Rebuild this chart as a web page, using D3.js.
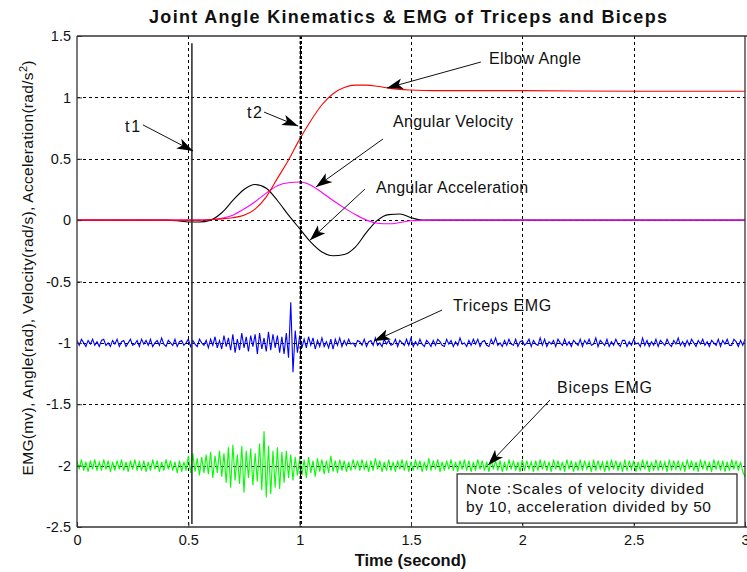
<!DOCTYPE html>
<html><head><meta charset="utf-8">
<script src="https://cdn.jsdelivr.net/npm/d3@7/dist/d3.min.js"></script>
<style>
body{margin:0;background:#fff}
svg{display:block}
text{font-family:"Liberation Sans",Arial,Helvetica,sans-serif;fill:#111}
</style>
</head><body>
<svg id="chart" width="747" height="572"></svg>
<script>
// ---------------- DATA ----------------
const xTicks = [0, 0.5, 1, 1.5, 2, 2.5, 3];
const xTickLabels = ["0", "0.5", "1", "1.5", "2", "2.5", "3"];
const yTicks = [1.5, 1, 0.5, 0, -0.5, -1, -1.5, -2, -2.5];
const yTickLabels = ["1.5", "1", "0.5", "0", "-0.5", "-1", "-1.5", "-2", "-2.5"];

// Elbow angle (rad)
const angleTime  = [0, 0.55, 0.6, 0.65, 0.7, 0.75, 0.8, 0.85, 0.9, 0.95, 1.0, 1.05, 1.1, 1.15, 1.2, 1.25, 1.3, 1.35, 1.4, 1.45, 1.5, 1.6, 2.0, 2.5, 3.0];
const angleValue = [0, 0, 0.005, 0.01, 0.02, 0.04, 0.09, 0.19, 0.34, 0.49, 0.66, 0.81, 0.94, 1.03, 1.08, 1.10, 1.10, 1.09, 1.075, 1.065, 1.06, 1.055, 1.055, 1.05, 1.05];

// Angular velocity (rad/s, divided by 10)
const velocityTime  = [0, 0.55, 0.6, 0.65, 0.7, 0.75, 0.8, 0.85, 0.9, 0.95, 1.0, 1.05, 1.1, 1.15, 1.2, 1.25, 1.3, 1.35, 1.4, 1.45, 1.5, 1.6, 3.0];
const velocityValue = [0, 0, 0.003, 0.015, 0.04, 0.09, 0.15, 0.22, 0.28, 0.305, 0.31, 0.285, 0.225, 0.16, 0.10, 0.045, 0.0, -0.025, -0.03, -0.02, -0.005, 0, 0];

// Angular acceleration (rad/s^2, divided by 50)
const accelTime  = [0, 0.4, 0.45, 0.5, 0.55, 0.6, 0.65, 0.7, 0.75, 0.8, 0.85, 0.9, 0.95, 1.0, 1.05, 1.1, 1.15, 1.2, 1.25, 1.3, 1.35, 1.4, 1.45, 1.5, 1.55, 1.6, 3.0];
const accelValue = [0, 0, -0.005, -0.015, -0.015, 0, 0.06, 0.16, 0.25, 0.29, 0.26, 0.16, 0.04, -0.07, -0.18, -0.26, -0.29, -0.28, -0.22, -0.10, 0.0, 0.045, 0.05, 0.02, 0.0, 0, 0];

// EMG samples every 0.01 s from 0 to 3 s, in units of 0.01 mV
const emgStep = 0.01;
const tricepsOffset = -1;
const bicepsOffset = -2;
const tricepsEMG = [
 2,-2,3,0,-3,2,-1,3,-2,1, -3,2,3,-2,0,-3,2,-1,3,-3, 1,2,-3,0,3,-2,-1,2,-3,3,
 -1,2,-2,3,-3,0,2,-2,4,-1, -3,2,0,-2,3,-3,1,2,-2,0, 3,-3,2,-1,-3,3,0,-2,2,-4,
 3,-2,5,-4,2,-5,6,-3,4,-6, 7,-8,3,-6,8,-4,5,-7,6,-3, 7,-9,8,-5,4,-7,9,-6,7,-4,
 6,-8,5,-9,8,-12,33,-24,10,-8, 6,-4,3,-4,5,-2,4,-5,2,-3, 4,-3,1,-4,3,-5,3,-2,4,-3,
 2,-2,3,-1,0,-3,2,1,-2,3, -3,1,2,-2,4,-2,0,-3,3,-1, 2,-2,-1,3,-3,2,0,-2,3,-2,
 4,-3,1,-2,3,-1,-3,2,0,-3, 2,-2,3,1,-2,-3,3,-1,2,-3, 1,-2,4,-1,0,-3,2,-2,3,-1,
 3,-3,1,2,-2,-3,3,-1,4,-2, 0,-3,2,-2,3,-1,-2,3,-3,1, 2,-2,0,3,-3,2,-1,-2,4,-2,
 3,-3,1,-1,2,-3,3,0,-2,3, -2,1,-3,2,0,-2,3,-3,2,-1, 3,-2,-1,4,-3,2,0,-2,3,-3,
 1,-2,3,-1,-3,2,2,-3,1,-2, 3,-1,0,-3,4,-2,2,-3,1,-2, 3,-3,2,0,-2,3,-1,-3,2,-1,
 4,-2,1,-3,2,-2,3,0,-3,2, -1,3,-2,1,-3,2,0,-2,3,-3, 2,-1,3,-2,-2,3,1,-3,2,-2, 3
];
const bicepsEMG = [
 4,-3,5,-4,3,-5,4,-3,5,-4, 3,-4,5,-3,4,-5,3,-4,4,-3, 5,-4,3,-5,4,-3,5,-4,3,-4,
 4,-5,3,-4,5,-3,4,-5,3,-4, 5,-3,4,-4,3,-6,4,-5,3,-4, 8,-6,10,-5,6,-8,7,-6,9,-7,
 11,-10,8,-6,12,-9,10,-14,15,-18, 17,-12,9,-15,16,-22,12,-10,14,-16, 10,-13,18,-20,28,-26,16,-23,12,-18,
 15,-19,11,-14,12,-10,9,-12,7,-8, 6,-8,5,-10,7,-6,4,-9,6,-5, 5,-7,4,-6,8,-5,4,-6,5,-4,
 4,-5,3,-4,5,-3,4,-4,5,-3, 3,-5,4,-4,6,-3,4,-5,3,-4, 5,-4,3,-5,4,-3,5,-4,4,-5,
 3,-4,5,-3,4,-5,3,-4,6,-4, 4,-3,5,-5,3,-4,4,-3,5,-4, 3,-5,4,-3,5,-4,4,-5,3,-4,
 5,-3,4,-4,3,-5,5,-3,4,-4, 4,-5,3,-4,5,-3,4,-4,3,-5, 5,-4,4,-3,3,-5,4,-4,5,-3,
 4,-4,3,-5,5,-3,4,-4,3,-5, 5,-3,4,-5,3,-4,5,-4,4,-3, 3,-5,5,-4,4,-3,3,-5,4,-4,
 5,-3,4,-4,3,-5,5,-4,4,-3, 4,-5,3,-4,5,-3,4,-5,3,-4, 5,-4,4,-3,3,-5,5,-4,4,-3,
 4,-4,3,-5,5,-3,4,-4,3,-5, 5,-3,4,-4,3,-5,5,-3,4,-4, 4,-5,3,-4,5,-3,4,-4,3,-5,-9
];

// Event markers (s)
const eventTimes = { t1: 0.516, t2: 1.005 };

// Text
const titleText = "Joint Angle Kinematics & EMG of Triceps and Biceps";
const xLabelText = "Time (second)";
const noteLines = ["Note :Scales of velocity divided", "by 10, acceleration divided by 50"];

// ---------------- LAYOUT ----------------
const plot = { left: 77, right: 745, top: 36, bottom: 527 };
// annotation layout in data coordinates: text start (tx,ty baseline), arrow from (ax,ay) to (bx,by)
const annotations = [
  { label: "t1", tx: 0.216, ty: 0.715, len: 15, ax: 0.296, ay: 0.776, bx: 0.521, by: 0.563 },
  { label: "t2", tx: 0.763, ty: 0.832, len: 15, ax: 0.840, ay: 0.880, bx: 0.993, by: 0.766 },
  { label: "Elbow Angle", tx: 1.850, ty: 1.268, len: 92, ax: 1.814, ay: 1.288, bx: 1.392, by: 1.076 },
  { label: "Angular Velocity", tx: 1.419, ty: 0.755, len: 120, ax: 1.374, ay: 0.661, bx: 1.073, by: 0.270 },
  { label: "Angular Acceleration", tx: 1.343, ty: 0.218, len: 152, ax: 1.293, ay: 0.253, bx: 1.046, by: -0.163 },
  { label: "Triceps EMG", tx: 1.689, ty: -0.742, len: 98, ax: 1.639, ay: -0.733, bx: 1.334, by: -0.985 },
  { label: "Biceps EMG", tx: 2.156, ty: -1.412, len: 95, ax: 2.124, ay: -1.466, bx: 1.846, by: -1.996 }
];
const noteBox = { x0: 1.707, x1: 2.964, y0: -2.068, y1: -2.468, tx: 1.747, ty: [-2.233, -2.380], len: [238, 245] };

// ---------------- DRAW ----------------
const svg = d3.select("#chart");
const x = d3.scaleLinear().domain([0, 3]).range([plot.left, plot.right]);
const y = d3.scaleLinear().domain([-2.5, 1.5]).range([plot.bottom, plot.top]);

svg.append("rect").attr("width", 747).attr("height", 572).attr("fill", "#fff");

const defs = svg.append("defs");
defs.append("clipPath").attr("id", "clip").append("rect")
  .attr("x", plot.left).attr("y", plot.top)
  .attr("width", plot.right - plot.left).attr("height", plot.bottom - plot.top);
defs.append("marker").attr("id", "arrow")
  .attr("viewBox", "0 -6 16 12").attr("refX", 16).attr("refY", 0)
  .attr("markerWidth", 16).attr("markerHeight", 12)
  .attr("markerUnits", "userSpaceOnUse").attr("orient", "auto")
  .append("path").attr("d", "M0,-5.5L16,0L0,5.5L4,0Z").attr("fill", "#000");

// grid
const grid = svg.append("g").attr("stroke", "#000").attr("stroke-width", 1).attr("stroke-dasharray", "3,3");
grid.selectAll(".vg").data(xTicks.filter(t => t > 0 && t < 3)).join("line")
  .attr("x1", d => Math.round(x(d)) + 0.5).attr("x2", d => Math.round(x(d)) + 0.5)
  .attr("y1", plot.top).attr("y2", plot.bottom);
grid.selectAll(".hg").data(yTicks.filter(t => t > -2.5 && t < 1.5)).join("line")
  .attr("y1", d => Math.round(y(d)) + 0.5).attr("y2", d => Math.round(y(d)) + 0.5)
  .attr("x1", plot.left).attr("x2", plot.right);

const body = svg.append("g").attr("clip-path", "url(#clip)");
const smooth = d3.line().curve(d3.curveMonotoneX);

function kin(ts, vs, color) {
  body.append("path")
    .attr("d", smooth(ts.map((t, i) => [x(t), y(vs[i])])))
    .attr("fill", "none").attr("stroke", color).attr("stroke-width", 1.1);
}
kin(accelTime, accelValue, "#000");
kin(velocityTime, velocityValue, "#ff00ff");
kin(angleTime, angleValue, "#ff0000");

const raw = d3.line();
function emg(arr, offset, color) {
  body.append("path")
    .attr("d", raw(arr.map((v, i) => [x(i * emgStep), y(offset + v / 100)])))
    .attr("fill", "none").attr("stroke", color).attr("stroke-width", 1.1);
}
emg(tricepsEMG, tricepsOffset, "#0000ff");
emg(bicepsEMG, bicepsOffset, "#00ff00");

// event lines
body.append("line")
  .attr("x1", x(eventTimes.t1)).attr("x2", x(eventTimes.t1))
  .attr("y1", y(1.44)).attr("y2", y(-2.475))
  .attr("stroke", "#333").attr("stroke-width", 1.6);
body.append("line")
  .attr("x1", x(eventTimes.t2)).attr("x2", x(eventTimes.t2))
  .attr("y1", plot.top).attr("y2", plot.bottom)
  .attr("stroke", "#000").attr("stroke-width", 2.4).attr("stroke-dasharray", "3,2");

// axes frame
const frame = svg.append("g").attr("stroke", "#333").attr("stroke-width", 1.3).attr("fill", "none");
frame.append("line").attr("x1", plot.left).attr("x2", plot.left).attr("y1", plot.top).attr("y2", plot.bottom);
frame.append("line").attr("x1", plot.left).attr("x2", plot.right + 3).attr("y1", plot.top).attr("y2", plot.top);
frame.append("line").attr("x1", plot.left).attr("x2", plot.right + 3).attr("y1", plot.bottom).attr("y2", plot.bottom);
frame.append("line").attr("x1", plot.right).attr("x2", plot.right).attr("y1", plot.top).attr("y2", plot.bottom);

// axes (ticks inside, labels outside)
const xAxis = d3.axisBottom(x).tickValues(xTicks).tickFormat((d, i) => xTickLabels[i]).tickSize(-5).tickPadding(8);
const yAxis = d3.axisLeft(y).tickValues(yTicks).tickFormat((d, i) => yTickLabels[i]).tickSize(-5).tickPadding(6);
const gx = svg.append("g").attr("transform", `translate(0,${plot.bottom})`).call(xAxis);
const gy = svg.append("g").attr("transform", `translate(${plot.left},0)`).call(yAxis);
[gx, gy].forEach(g => {
  g.select(".domain").remove();
  g.selectAll(".tick line").attr("stroke", "#333");
  g.selectAll("text").attr("font-size", 14.5).attr("fill", "#111").style("font-family", '"Liberation Sans",Arial,sans-serif');
});

// title & labels
svg.append("text").attr("x", 149).attr("y", 23)
  .attr("font-size", 18).attr("font-weight", "bold")
  .attr("textLength", 518).attr("lengthAdjust", "spacing")
  .text(titleText);
svg.append("text").attr("x", 410.5).attr("y", 566).attr("text-anchor", "middle")
  .attr("font-size", 16.5).attr("font-weight", "bold").text(xLabelText);

const yl = svg.append("text").attr("transform", "translate(33,268) rotate(-90)")
  .attr("text-anchor", "middle").attr("font-size", 15.5)
  .attr("textLength", 415).attr("lengthAdjust", "spacing");
yl.append("tspan").text("EMG(mv),  Angle(rad),  Velocity(rad/s),  Acceleration(rad/s");
yl.append("tspan").attr("baseline-shift", "super").attr("font-size", 11).text("2");
yl.append("tspan").text(")");

// annotations
const ann = svg.append("g");
annotations.forEach(a => {
  ann.append("line")
    .attr("x1", x(a.ax)).attr("y1", y(a.ay)).attr("x2", x(a.bx)).attr("y2", y(a.by))
    .attr("stroke", "#111").attr("stroke-width", 1).attr("marker-end", "url(#arrow)");
  ann.append("text").attr("x", x(a.tx)).attr("y", y(a.ty))
    .attr("font-size", 16).attr("textLength", a.len).attr("lengthAdjust", "spacing")
    .text(a.label);
});

// note box
ann.append("rect")
  .attr("x", x(noteBox.x0)).attr("y", y(noteBox.y0))
  .attr("width", x(noteBox.x1) - x(noteBox.x0)).attr("height", y(noteBox.y1) - y(noteBox.y0))
  .attr("fill", "#fff").attr("stroke", "#222").attr("stroke-width", 1.2);
noteLines.forEach((t, i) => {
  ann.append("text").attr("x", x(noteBox.tx)).attr("y", y(noteBox.ty[i]))
    .attr("font-size", 15.5).attr("textLength", noteBox.len[i]).attr("lengthAdjust", "spacing")
    .text(t);
});
</script>
</body></html>
